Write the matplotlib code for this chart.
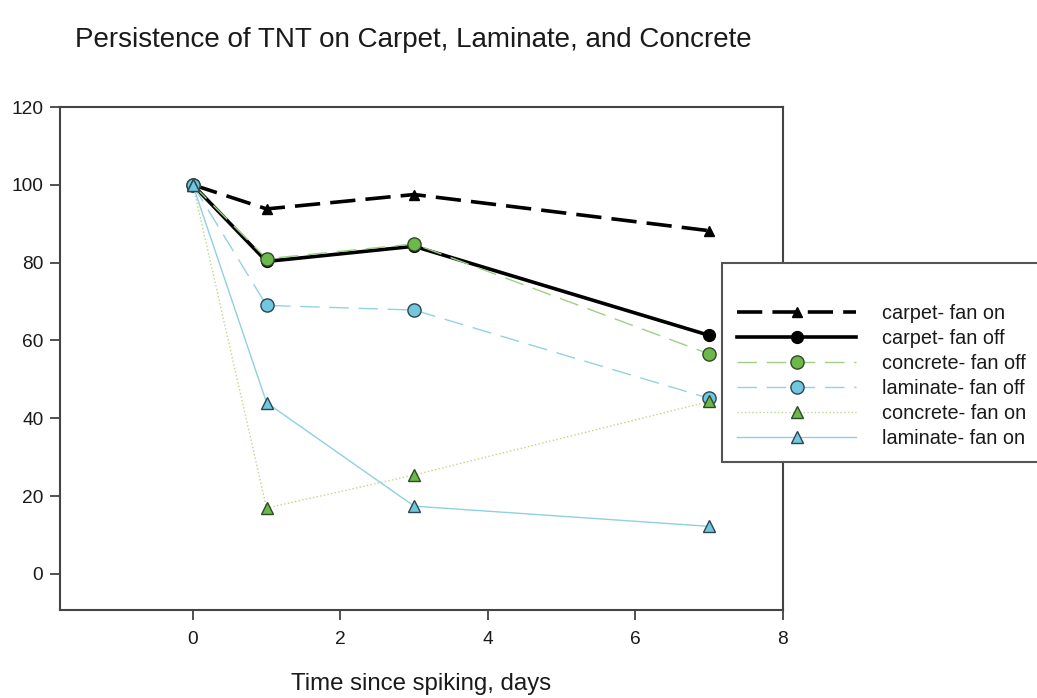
import matplotlib
matplotlib.use('Agg')
import matplotlib.pyplot as plt
from matplotlib.patches import Rectangle

plt.rcParams['font.family'] = ['Liberation Sans', 'DejaVu Sans']

days = [0, 1, 3, 7]
labels = ['carpet- fan on', 'carpet- fan off', 'concrete- fan off',
          'laminate- fan off', 'concrete- fan on', 'laminate- fan on']
carpet_on = [100, 93.8, 97.5, 88.2]
carpet_off = [100, 80.3, 84.2, 61.3]
concrete_off = [100, 81.0, 84.8, 56.5]
laminate_off = [100, 69.0, 67.8, 45.1]
concrete_on = [100, 16.9, 25.4, 44.3]
laminate_on = [100, 44.0, 17.4, 12.2]

green_fill = '#6cb84a'
green_edge = '#2f4a26'
cyan_fill = '#72c7de'
cyan_edge = '#2b4650'
text_col = '#1a1a1a'

fig = plt.figure(figsize=(10.37, 6.98), dpi=100)
ax = fig.add_axes([60 / 1037, 1 - 610 / 698, (783 - 60) / 1037, (610 - 107) / 698])

ax.plot(days, carpet_on, color='black', lw=2.6, dashes=(7, 2.8),
        marker='^', ms=7.5, mfc='black', mec='black', label=labels[0])
ax.plot(days, carpet_off, color='black', lw=2.6,
        marker='o', ms=8.5, mfc='black', mec='black', label=labels[1])
ax.plot(days, concrete_off, color='#9fcf84', lw=1.0, dashes=(14, 7),
        marker='o', ms=9.5, mfc=green_fill, mec=green_edge, mew=1.0, label=labels[2])
ax.plot(days, laminate_off, color='#93d2e4', lw=1.0, dashes=(14, 7),
        marker='o', ms=9.5, mfc=cyan_fill, mec=cyan_edge, mew=1.0, label=labels[3])
ax.plot(days, concrete_on, color='#bcd68f', lw=1.0, ls=':',
        marker='^', ms=9, mfc=green_fill, mec=green_edge, mew=1.0, label=labels[4])
ax.plot(days, laminate_on, color='#8fd0e3', lw=1.0,
        marker='^', ms=9, mfc=cyan_fill, mec=cyan_edge, mew=1.0, label=labels[5])

ax.set_xlim(-1.8, 8)
ax.set_ylim(-9.3, 120)
ax.set_xticks([0, 2, 4, 6, 8])
ax.set_yticks([0, 20, 40, 60, 80, 100, 120])
ax.tick_params(direction='out', length=7, width=1.2, color='#333333',
               labelsize=13.8, labelcolor=text_col)
ax.tick_params(axis='x', pad=8)
ax.tick_params(axis='y', pad=5)
for s in ax.spines.values():
    s.set_color('#444444')
    s.set_linewidth(1.5)

ax.set_xlabel('Time since spiking, days', fontsize=17.3, color=text_col, labelpad=18)

fig.text(75 / 1037, 1 - 40 / 698, 'Persistence of TNT on Carpet, Laminate, and Concrete',
         fontsize=20, color=text_col, va='center', ha='left')

# legend box (extends past the right edge as in the original)
fig.patches.append(Rectangle((722 / 1037, 1 - 462 / 698), 0.4, (462 - 263) / 698,
                             transform=fig.transFigure, facecolor='white',
                             edgecolor='#555555', lw=1.5, zorder=5))
leg = fig.legend(loc='upper left', bbox_to_anchor=(737 / 1037, 1 - 304 / 698),
                 frameon=False, fontsize=14.3, handlelength=6.0, handletextpad=1.3,
                 labelspacing=0.3, borderaxespad=0, borderpad=0)
leg.set_zorder(6)
for t in leg.get_texts():
    t.set_color(text_col)

fig.savefig('out.png', dpi=100)
